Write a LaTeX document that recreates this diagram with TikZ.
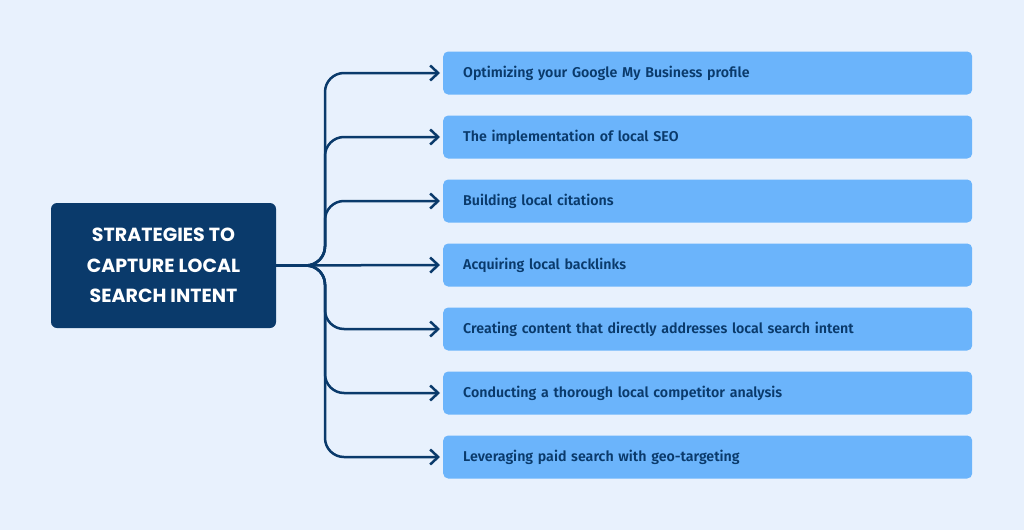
\documentclass[tikz,border=0pt]{standalone}
\usepackage{fontspec}
\usetikzlibrary{arrows.meta}
\newfontfamily\hubfont{Poppins}[UprightFont=* Bold]
\newfontfamily\itemfont{Fira Sans}[UprightFont=* SemiBold]
\definecolor{pagebg}{HTML}{E8F1FD}
\definecolor{navy}{HTML}{0A3A6B}
\definecolor{skyblue}{HTML}{6BB4FB}
\tikzset{
  hubbox/.style={fill=navy, rounded corners=6pt, minimum width=225pt, minimum height=125pt,
    align=center, text=white, font=\hubfont\fontsize{19}{30.5}\selectfont},
  itembox/.style={fill=skyblue, rounded corners=5pt, anchor=west, minimum height=43pt,
    text width=489pt, inner xsep=20pt, align=left, text=navy, font=\itemfont\fontsize{14.2}{16}\selectfont},
  conn/.style={draw=navy, line width=2.5pt, rounded corners=19pt,
    -{Straight Barb[length=8pt,width=15pt,line width=2.5pt]}, shorten >=3pt}
}
\begin{document}
\begin{tikzpicture}[x=1pt, y=-1pt]
  \fill[pagebg] (0,0) rectangle (1024,530);
  \useasboundingbox (0,0) rectangle (1024,530);
  \node[hubbox] (hub) at (163.5,265.5) {STRATEGIES TO\\CAPTURE LOCAL\\SEARCH INTENT};
  \node[itembox] (opt) at (443,73) {Optimizing your Google My Business profile};
  \node[itembox] (seo) at (443,137) {The implementation of local SEO};
  \node[itembox] (cit) at (443,201) {Building local citations};
  \node[itembox] (back) at (443,265) {Acquiring local backlinks};
  \node[itembox] (cont) at (443,329) {Creating content that directly addresses local search intent};
  \node[itembox] (comp) at (443,393) {Conducting a thorough local competitor analysis};
  \node[itembox] (paid) at (443,457) {Leveraging paid search with geo-targeting};
  \coordinate (trunk) at (325,265.5);
  \draw[conn] (hub.east) -- (back.west);
  \foreach \n in {opt,seo,cit,cont,comp,paid}
    \draw[conn] (hub.east) -- (trunk) |- (\n.west);
\end{tikzpicture}
\end{document}
